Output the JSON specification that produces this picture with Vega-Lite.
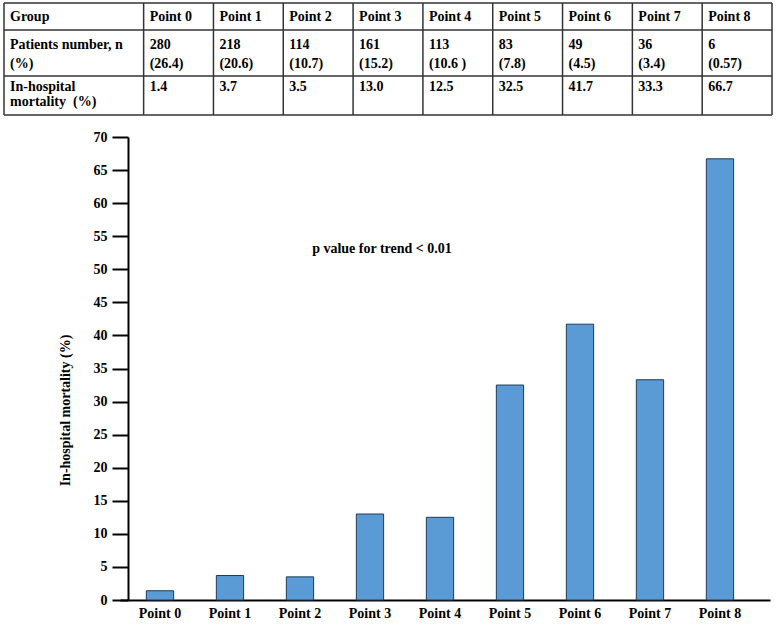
{
  "$schema": "https://vega.github.io/schema/vega-lite/v6.json",
  "width": 650,
  "height": 463,
  "autosize": {"type": "none"},
  "padding": {"left": 120, "top": 137, "right": 7, "bottom": 27},
  "background": "white",
  "config": {"view": {"stroke": null}, "font": "Liberation Serif"},
  "datasets": {
    "bars": [
      {"Group": "Point 0", "mortality": 1.4},
      {"Group": "Point 1", "mortality": 3.7},
      {"Group": "Point 2", "mortality": 3.5},
      {"Group": "Point 3", "mortality": 13.0},
      {"Group": "Point 4", "mortality": 12.5},
      {"Group": "Point 5", "mortality": 32.5},
      {"Group": "Point 6", "mortality": 41.7},
      {"Group": "Point 7", "mortality": 33.3},
      {"Group": "Point 8", "mortality": 66.7}
    ],
    "cells": [
      {"row": 0, "col": -2, "text": "Group"},
      {"row": 0, "col": 0, "text": "Point 0"},
      {"row": 0, "col": 1, "text": "Point 1"},
      {"row": 0, "col": 2, "text": "Point 2"},
      {"row": 0, "col": 3, "text": "Point 3"},
      {"row": 0, "col": 4, "text": "Point 4"},
      {"row": 0, "col": 5, "text": "Point 5"},
      {"row": 0, "col": 6, "text": "Point 6"},
      {"row": 0, "col": 7, "text": "Point 7"},
      {"row": 0, "col": 8, "text": "Point 8"},
      {"row": 1, "col": -2, "text": "Patients number, n\n(%)"},
      {"row": 1, "col": 0, "text": "280\n(26.4)"},
      {"row": 1, "col": 1, "text": "218\n(20.6)"},
      {"row": 1, "col": 2, "text": "114\n(10.7)"},
      {"row": 1, "col": 3, "text": "161\n(15.2)"},
      {"row": 1, "col": 4, "text": "113\n(10.6 )"},
      {"row": 1, "col": 5, "text": "83\n\u00a0(7.8)"},
      {"row": 1, "col": 6, "text": "49\n(4.5)"},
      {"row": 1, "col": 7, "text": "36\n(3.4)"},
      {"row": 1, "col": 8, "text": "6\n(0.57)"},
      {"row": 2, "col": -2, "text": "In-hospital\nmortality\u00a0\u00a0(%)"},
      {"row": 2, "col": 0, "text": "1.4"},
      {"row": 2, "col": 1, "text": "3.7"},
      {"row": 2, "col": 2, "text": "3.5"},
      {"row": 2, "col": 3, "text": "13.0"},
      {"row": 2, "col": 4, "text": "12.5"},
      {"row": 2, "col": 5, "text": "32.5"},
      {"row": 2, "col": 6, "text": "41.7"},
      {"row": 2, "col": 7, "text": "33.3"},
      {"row": 2, "col": 8, "text": "66.7"}
    ],
    "vlines": [
      {"col": -2}, {"col": 0}, {"col": 1}, {"col": 2}, {"col": 3}, {"col": 4},
      {"col": 5}, {"col": 6}, {"col": 7}, {"col": 8}, {"col": 9}
    ],
    "hlines": [{"row": 0}, {"row": 1}, {"row": 2}, {"row": 3}]
  },
  "layer": [
    {
      "encoding": {
        "x": {
          "field": "Group",
          "type": "nominal",
          "sort": null,
          "scale": {"paddingInner": 0.61, "paddingOuter": 0.448, "align": 0.42},
          "axis": {
            "title": null,
            "labelAngle": 0,
            "ticks": false,
            "domainColor": "black",
            "domainWidth": 2,
            "labelPadding": 6,
            "labelFont": "Liberation Serif",
            "labelFontSize": 14,
            "labelFontWeight": "bold",
            "labelColor": "black"
          }
        },
        "y": {
          "field": "mortality",
          "type": "quantitative",
          "scale": {"domain": [0, 70], "nice": false, "zero": true},
          "axis": {
            "values": [0, 5, 10, 15, 20, 25, 30, 35, 40, 45, 50, 55, 60, 65, 70],
            "labelOverlap": false,
            "grid": false,
            "offset": -8,
            "domainColor": "black",
            "domainWidth": 2,
            "tickColor": "black",
            "tickWidth": 2,
            "tickSize": 16,
            "labelPadding": 5,
            "labelFont": "Liberation Serif",
            "labelFontSize": 14,
            "labelFontWeight": "bold",
            "labelColor": "black",
            "title": "In-hospital mortality (%)",
            "titleFont": "Liberation Serif",
            "titleFontSize": 14,
            "titleFontWeight": "bold",
            "titleColor": "black",
            "titleAngle": 270,
            "titleAlign": "center",
            "titleBaseline": "middle",
            "titleX": -63,
            "titleY": 273
          }
        }
      },
      "layer": [
        {
          "data": {"name": "bars"},
          "mark": {"type": "bar", "fill": "#5B9BD5", "stroke": "#203a58", "strokeWidth": 1}
        },
        {
          "data": {"values": [{"Group": "Point 3", "mortality": 53}]},
          "mark": {
            "type": "text",
            "text": "p value for trend < 0.01",
            "font": "Liberation Serif",
            "fontSize": 14,
            "fontWeight": "bold",
            "color": "black",
            "align": "center",
            "baseline": "middle",
            "dx": 12
          }
        }
      ]
    },
    {
      "layer": [
        {
          "data": {"name": "vlines"},
          "mark": {"type": "rule", "color": "#333333", "strokeWidth": 1.5},
          "encoding": {
            "x": {"field": "col", "type": "quantitative", "scale": {"domain": [-2, 9], "range": [-116, 652], "nice": false, "zero": false}, "axis": null},
            "y": {"datum": 0, "type": "quantitative", "scale": {"domain": [0, 1, 2, 3], "range": [-134, -107, -61, -22], "nice": false, "zero": false}, "axis": null},
            "y2": {"datum": 3}
          }
        },
        {
          "data": {"name": "hlines"},
          "mark": {"type": "rule", "color": "#333333", "strokeWidth": 1.5},
          "encoding": {
            "y": {"field": "row", "type": "quantitative", "axis": null},
            "x": {"datum": -2, "type": "quantitative", "axis": null},
            "x2": {"datum": 9}
          }
        },
        {
          "data": {"name": "cells"},
          "transform": [{"filter": "datum.row == 0"}],
          "mark": {"type": "text", "align": "left", "baseline": "alphabetic", "dx": 6, "dy": 18, "font": "Liberation Serif", "fontSize": 14, "fontWeight": "bold", "color": "black", "lineBreak": "\n"},
          "encoding": {
            "x": {"field": "col", "type": "quantitative", "axis": null},
            "y": {"field": "row", "type": "quantitative", "axis": null},
            "text": {"field": "text"}
          }
        },
        {
          "data": {"name": "cells"},
          "transform": [{"filter": "datum.row == 1"}],
          "mark": {"type": "text", "align": "left", "baseline": "alphabetic", "dx": 6, "dy": 19, "font": "Liberation Serif", "fontSize": 14, "fontWeight": "bold", "color": "black", "lineBreak": "\n", "lineHeight": 19},
          "encoding": {
            "x": {"field": "col", "type": "quantitative", "axis": null},
            "y": {"field": "row", "type": "quantitative", "axis": null},
            "text": {"field": "text"}
          }
        },
        {
          "data": {"name": "cells"},
          "transform": [{"filter": "datum.row == 2"}],
          "mark": {"type": "text", "align": "left", "baseline": "alphabetic", "dx": 6, "dy": 15, "font": "Liberation Serif", "fontSize": 14, "fontWeight": "bold", "color": "black", "lineBreak": "\n", "lineHeight": 15},
          "encoding": {
            "x": {"field": "col", "type": "quantitative", "axis": null},
            "y": {"field": "row", "type": "quantitative", "axis": null},
            "text": {"field": "text"}
          }
        }
      ]
    }
  ],
  "resolve": {"scale": {"x": "independent", "y": "independent"}}
}
